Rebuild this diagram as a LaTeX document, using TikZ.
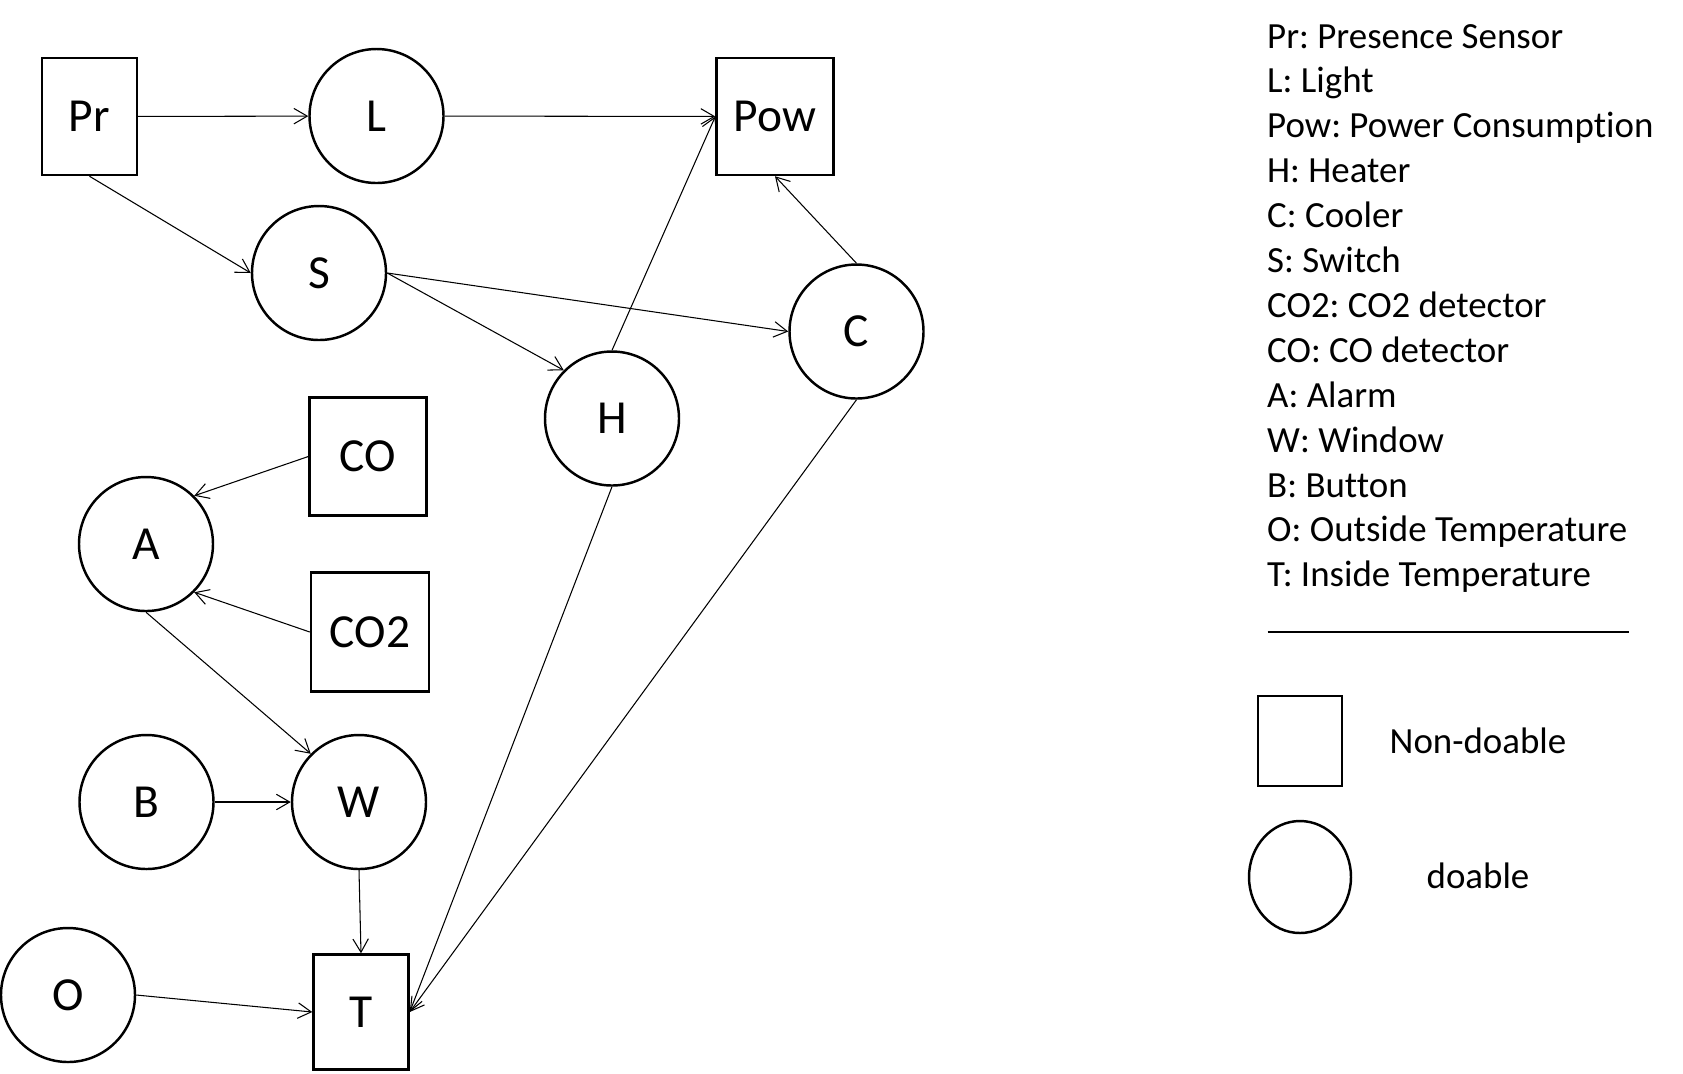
\documentclass[tikz,border=0pt]{standalone}
\usepackage{fontspec}
\setmainfont{Carlito}[Ligatures=NoCommon]
\usetikzlibrary{arrows.meta}
\usetikzlibrary{shapes.geometric}
\frenchspacing

\begin{document}
\begin{tikzpicture}[
  doable/.style={draw,circle,line width=.7pt,minimum size=1.34cm,inner sep=0pt,
    font=\fontsize{13.5}{16}\selectfont},
  nondoable/.style={draw,rectangle,line width=.7pt,inner sep=0pt,
    font=\fontsize{13.5}{16}\selectfont},
  dep/.style={line width=.3pt,-{Straight Barb[length=3.8pt,width=4.4pt]}},
  keytext/.style={anchor=base west,inner sep=0pt,font=\fontsize{10.5}{12}\selectfont}]
  \useasboundingbox (0,0) rectangle (16.83,-10.73);
  % variables
  \node[nondoable,minimum width=.95cm,minimum height=1.17cm] (Pr) at (0.895,-1.165) {Pr};
  \node[doable] (L) at (3.765,-1.16) {L};
  \node[nondoable,minimum width=1.17cm,minimum height=1.17cm] (Pow) at (7.75,-1.165) {Pow};
  \node[doable] (S) at (3.19,-2.73) {S};
  \node[doable] (C) at (8.565,-3.315) {C};
  \node[doable] (H) at (6.12,-4.185) {H};
  \node[nondoable,minimum width=1.17cm,minimum height=1.18cm] (CO) at (3.68,-4.565) {CO};
  \node[doable] (A) at (1.46,-5.44) {A};
  \node[nondoable,minimum width=1.18cm,minimum height=1.19cm] (CO2) at (3.70,-6.32) {CO2};
  \node[doable] (B) at (1.465,-8.02) {B};
  \node[doable] (W) at (3.59,-8.02) {W};
  \node[doable] (O) at (0.68,-9.95) {O};
  \node[nondoable,minimum width=.95cm,minimum height=1.15cm] (T) at (3.61,-10.12) {T};
  % dependencies
  \draw[dep] (Pr) -- (L);
  \draw[dep] (L) -- (Pow);
  \draw[dep] (Pr.south) -- (S.west);
  \draw[dep] (S.east) -- (C.west);
  \draw[dep] (S.east) -- (H.north west);
  \draw[dep] (H.north) -- (Pow.west);
  \draw[dep] (C.north) -- (Pow.south);
  \draw[dep] (H.south) -- (T.east);
  \draw[dep] (C.south) -- (T.east);
  \draw[dep] (CO.west) -- (A.north east);
  \draw[dep] (CO2.west) -- (A.south east);
  \draw[dep] (A.south) -- (W.north west);
  \draw[dep] (B) -- (W);
  \draw[dep] (W.south) -- (T.north);
  \draw[dep] (O.east) -- (T.west);
  % key
  \foreach \txt [count=\i from 0] in {Pr: Presence Sensor,L: Light,Pow: Power Consumption,
      H: Heater,C: Cooler,S: Switch,CO2: CO2 detector,CO: CO detector,A: Alarm,
      W: Window,B: Button,O: Outside Temperature,T: Inside Temperature}
    \node[keytext] (key\i) at (12.665,-0.48-0.449*\i) {\txt};
  \draw[line width=.4pt] (12.675,-6.32) -- (16.29,-6.32);
  \node[nondoable,minimum width=.84cm,minimum height=.9cm] (keybox) at (13.0,-7.41) {};
  \node[draw,ellipse,line width=.7pt,minimum width=1.02cm,minimum height=1.12cm,inner sep=0pt]
    (keycircle) at (13.0,-8.77) {};
  \node[anchor=base,inner sep=0pt,font=\fontsize{10.5}{12}\selectfont] (nondo) at (14.78,-7.53) {Non-doable};
  \node[anchor=base,inner sep=0pt,font=\fontsize{10.5}{12}\selectfont] (do) at (14.78,-8.88) {doable};
\end{tikzpicture}
\end{document}
